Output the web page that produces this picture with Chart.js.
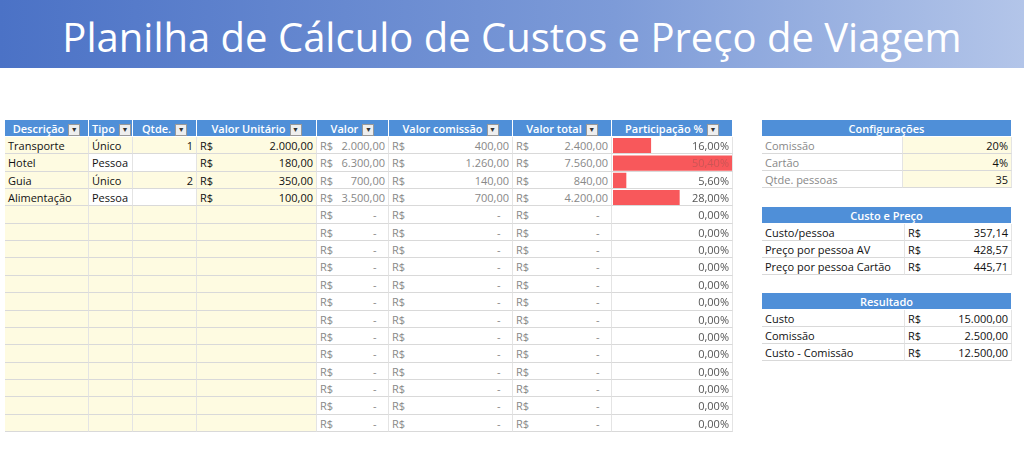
<!DOCTYPE html><html><head><meta charset="utf-8">
<script src="https://cdn.jsdelivr.net/npm/chart.js@4"></script>
<style>
body{margin:0;width:1024px;height:464px;background:#fff;font-family:"Open Sans",sans-serif;position:relative;overflow:hidden}
#title{position:absolute;left:0;top:0;width:1024px;height:68px;background:linear-gradient(90deg,#4b72c6,#7d9bd8 60%,#b3c5e9);color:#fff;font-size:40px;text-align:center;line-height:74px;font-family:"Open Sans",sans-serif}
.c{position:absolute;box-sizing:border-box;font-size:11px;line-height:17px;white-space:nowrap;overflow:hidden;border-bottom:1px solid #d9d9d9;border-right:1px solid #e4e4e4;padding:0 3px;color:#111}
.h{background:#4f8fd8;color:#fff;font-weight:600;text-align:center;border-color:#fff}
.y{background:#fefbe1}.g{color:#888}
.dd{display:inline-block;width:10px;height:10px;background:#eee;border:1px solid #999;vertical-align:middle;margin-left:4px;color:#333;font-size:7px;line-height:10px}
#wrap{position:absolute;left:613px;top:137px;width:120px;height:295px}
</style></head><body>
<div id="title">Planilha de Cálculo de Custos e Preço de Viagem</div>
<div id="wrap"><canvas id="ch"></canvas></div>
<script>
const headers=["Descrição","Tipo","Qtde.","Valor Unitário","Valor","Valor comissão","Valor total","Participação %"];
const descr=["Transporte","Hotel","Guia","Alimentação"];
const tipo=["Único","Pessoa","Único","Pessoa"];
const qtde=["1","","2",""];
const valorUnit=["2.000,00","180,00","350,00","100,00"];
const valor=["2.000,00","6.300,00","700,00","3.500,00"];
const comissao=["400,00","1.260,00","140,00","700,00"];
const total=["2.400,00","7.560,00","840,00","4.200,00"];
const participacao=[16.0,50.4,5.6,28.0,0,0,0,0,0,0,0,0,0,0,0,0,0];
const cfgLabels=["Comissão","Cartão","Qtde. pessoas"],cfgValues=["20%","4%","35"];
const cpLabels=["Custo/pessoa","Preço por pessoa AV","Preço por pessoa Cartão"],cpValues=["357,14","428,57","445,71"];
const resLabels=["Custo","Comissão","Custo - Comissão"],resValues=["15.000,00","2.500,00","12.500,00"];

const xs=[5,89,133,197,317,389,513,612,733];const top0=120,rh=17.35,nrows=17;
function cell(x,y,w,h,txt,cls,align){const d=document.createElement('div');d.className='c '+(cls||'');d.style.left=x+'px';d.style.top=y+'px';d.style.width=w+'px';d.style.height=h+'px';if(align)d.style.textAlign=align;d.innerHTML=txt;document.body.appendChild(d);return d;}
headers.forEach((t,i)=>cell(xs[i],top0,xs[i+1]-xs[i],17,t+'<span class="dd">▼</span>','h'));
for(let r=0;r<nrows;r++){const y=Math.round(top0+17+r*rh),h=Math.round(top0+17+(r+1)*rh)-y,d=r<4;
 cell(xs[0],y,xs[1]-xs[0],h,d?descr[r]:'','y');
 cell(xs[1],y,xs[2]-xs[1],h,d?tipo[r]:'',d&&tipo[r]=='Pessoa'?'':'y');
 cell(xs[2],y,xs[3]-xs[2],h,d?qtde[r]:'',d&&tipo[r]=='Pessoa'?'':'y','right');
 cell(xs[3],y,xs[4]-xs[3],h,d?'<span style="float:left">R$</span>'+valorUnit[r]:'','y','right');
 cell(xs[4],y,xs[5]-xs[4],h,'<span style="float:left">R$</span>'+(d?valor[r]:'-&nbsp;&nbsp;&nbsp;'),'g','right');
 cell(xs[5],y,xs[6]-xs[5],h,'<span style="float:left">R$</span>'+(d?comissao[r]:'-&nbsp;&nbsp;&nbsp;'),'g','right');
 cell(xs[6],y,xs[7]-xs[6],h,'<span style="float:left">R$</span>'+(d?total[r]:'-&nbsp;&nbsp;&nbsp;'),'g','right');
 const p=cell(xs[7],y,xs[8]-xs[7],h,participacao[r].toFixed(2).replace('.',',')+'%','g','right');p.style.background='transparent';p.style.zIndex=2;p.style.color=r==1?'#c55':'#555';
}
function panel(y,title,labels,values,cfg){cell(762,y,250,17,title,'h');labels.forEach((l,i)=>{const yy=y+17+i*17;
 if(cfg){cell(762,yy,141,17,l,'g');cell(903,yy,109,17,values[i],'y','right');}
 else{cell(762,yy,143,17,l,'');cell(905,yy,107,17,'<span style="float:left">R$</span>'+values[i],'','right');}});}
panel(120,"Configurações",cfgLabels,cfgValues,true);
panel(207,"Custo e Preço",cpLabels,cpValues,false);
panel(293,"Resultado",resLabels,resValues,false);

new Chart(document.getElementById('ch'),{type:'bar',data:{labels:participacao.map((_,i)=>i),datasets:[{data:participacao,backgroundColor:'#f8585b',barPercentage:0.88,categoryPercentage:1}]},
options:{indexAxis:'y',responsive:true,maintainAspectRatio:false,animation:false,layout:{padding:0},
plugins:{legend:{display:false},tooltip:{enabled:false}},
scales:{x:{display:false,min:0,max:50.4},y:{display:false}}}});
</script></body></html>
